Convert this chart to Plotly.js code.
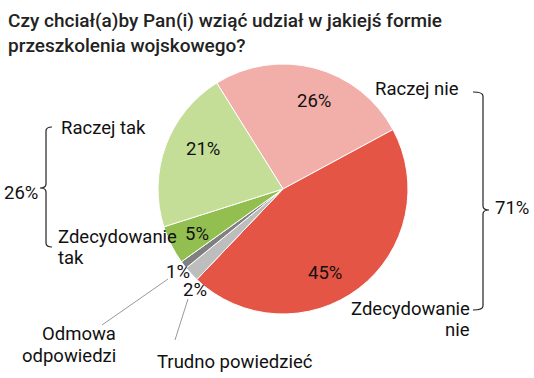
<!DOCTYPE html>
<html>
<head>
<meta charset="utf-8">
<script src="https://cdn.plot.ly/plotly-3.0.1.min.js"></script>
<style>html,body{margin:0;padding:0;background:#fff;}#chart{width:534px;height:378px;}</style>
</head>
<body>
<div id="chart"></div>
<script>
const categories = ["Raczej nie", "Zdecydowanie nie", "Trudno powiedzieć", "Odmowa odpowiedzi", "Zdecydowanie tak", "Raczej tak"];
const values = [26, 45, 2, 1, 5, 21];
const colors = ["#f2aea8", "#e55545", "#bdbdbd", "#808080", "#93bf50", "#c4de98"];
const groupLabels = ["26%", "71%"];
const titleLines = ["Czy chciał(a)by Pan(i) wziąć udział w jakiejś formie", "przeszkolenia wojskowego?"];

const W = 534, H = 378;
const px = x => x / W;
const py = y => 1 - y / H;
const FONT = "Roboto, 'Noto Sans', sans-serif";
const FS = 18.5;

const cx = 283, cy = 189, R = 125;

const trace = {
  type: "pie",
  labels: categories,
  values: values,
  sort: false,
  direction: "clockwise",
  rotation: -32,
  marker: {colors: colors, line: {color: "#ffffff", width: 1}},
  textinfo: "none",
  textposition: "none",
  hoverinfo: "none",
  showlegend: false,
  domain: {x: [px(cx - R), px(cx + R)], y: [py(cy + R), py(cy - R)]}
};

function ann(text, x, y, xanchor, opts) {
  const a = {text: text, x: px(x), y: py(y), xref: "paper", yref: "paper",
    xanchor: xanchor || "center", yanchor: "middle",
    showarrow: false, font: {family: FONT, size: FS, color: "#111"}};
  return Object.assign(a, opts || {});
}

function brace(x0, xv, xt, y0, ym, y1) {
  const d = 4;
  const pts = [
    `M ${px(x0)} ${py(y0)}`,
    `Q ${px(xv)} ${py(y0)} ${px(xv)} ${py(y0 + d)}`,
    `L ${px(xv)} ${py(ym - d)}`,
    `Q ${px(xv)} ${py(ym)} ${px(xt)} ${py(ym)}`,
    `Q ${px(xv)} ${py(ym)} ${px(xv)} ${py(ym + d)}`,
    `L ${px(xv)} ${py(y1 - d)}`,
    `Q ${px(xv)} ${py(y1)} ${px(x0)} ${py(y1)}`
  ];
  return {type: "path", xref: "paper", yref: "paper", path: pts.join(" "),
    line: {color: "#222", width: 1.2}};
}

function leader(x0, y0, x1, y1) {
  return {type: "line", xref: "paper", yref: "paper", x0: px(x0), y0: py(y0), x1: px(x1), y1: py(y1),
    line: {color: "#999", width: 1}};
}

const pct = v => v + "%";
const titleFont = {family: FONT, size: 19, color: "#222", weight: 500};

const layout = {
  width: W, height: H,
  margin: {l: 0, r: 0, t: 0, b: 0},
  paper_bgcolor: "#fff",
  annotations: [
    ann(titleLines[0], 6, 20, "left", {font: titleFont}),
    ann(titleLines[1], 6, 45, "left", {font: titleFont}),
    // slice percentages
    ann(pct(values[0]), 314, 101),
    ann(pct(values[1]), 325, 273),
    ann(pct(values[5]), 203, 149),
    ann(pct(values[4]), 197, 234),
    ann(pct(values[3]), 178, 272),
    ann(pct(values[2]), 195, 290),
    // category labels
    ann(categories[0], 417, 89),
    ann("Zdecydowanie", 472, 309, "right"),
    ann("nie", 472, 330, "right"),
    ann(categories[2], 235, 362),
    ann("Odmowa", 118, 334, "right"),
    ann("odpowiedzi", 118, 356, "right"),
    ann("Zdecydowanie", 56, 237, "left"),
    ann("tak", 56, 258, "left"),
    ann(categories[5], 59, 128, "left"),
    // group totals
    ann(groupLabels[0], 21, 193),
    ann(groupLabels[1], 512, 208)
  ],
  shapes: [
    brace(52, 46, 40, 127, 188, 247),
    brace(473, 483, 489, 92, 210, 310),
    leader(102, 325, 168, 279),
    leader(175, 340, 188, 299)
  ]
};

Plotly.newPlot("chart", [trace], layout, {displayModeBar: false, staticPlot: true});
</script>
</body>
</html>
